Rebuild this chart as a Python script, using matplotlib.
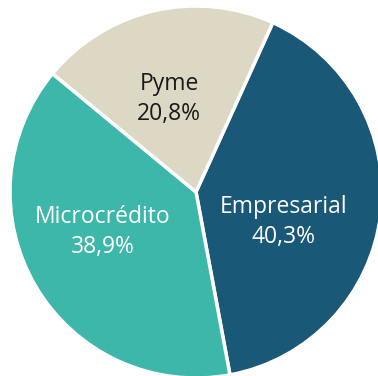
import matplotlib
matplotlib.use("Agg")
import matplotlib.pyplot as plt

# Data
segments = ["Empresarial", "Microcrédito", "Pyme"]
shares = [40.3, 38.9, 20.8]
colors = ["#1a5877", "#3db7aa", "#dcd8c3"]
text_colors = ["white", "white", "#1a1a1a"]
label_pos = [(0.47, -0.16), (-0.5, -0.215), (-0.145, 0.5)]

W, H = 378, 376
cx, cy, r = 196, 192, 186

fig = plt.figure(figsize=(W / 100, H / 100), dpi=100)
ax = fig.add_axes([(cx - r) / W, (H - cy - r) / H, 2 * r / W, 2 * r / H])

ax.pie(shares, colors=colors, startangle=65.6, counterclock=False,
       wedgeprops=dict(edgecolor="white", linewidth=2.5))

for name, val, tc, (x, y) in zip(segments, shares, text_colors, label_pos):
    txt = f"{name}\n{val:.1f}%".replace(".", ",")
    ax.text(x, y, txt, ha="center", va="center", color=tc,
            fontsize=16.5, family="Open Sans", linespacing=1.35)

ax.set_xlim(-1, 1)
ax.set_ylim(-1, 1)
ax.set_aspect("equal")
ax.axis("off")

fig.savefig("out.png", dpi=100)
